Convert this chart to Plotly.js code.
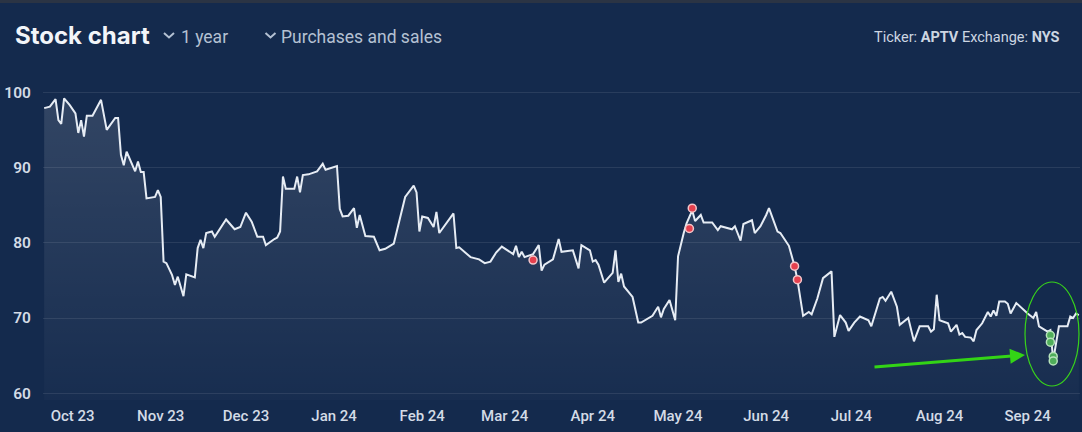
<!DOCTYPE html>
<html>
<head>
<meta charset="utf-8">
<script src="https://cdn.plot.ly/plotly-3.0.1.min.js"></script>
<style>html,body{margin:0;padding:0;background:#142a4d;}#chart{width:1082px;height:432px;}</style>
</head>
<body>
<div id="chart"></div>
<script>
// ---- data ----
const dates = [
'2023-09-21','2023-09-23','2023-09-25','2023-09-26','2023-09-27','2023-09-28','2023-09-30',
'2023-10-02','2023-10-03','2023-10-04','2023-10-05','2023-10-06','2023-10-08','2023-10-11','2023-10-13',
'2023-10-16','2023-10-17','2023-10-18','2023-10-19','2023-10-20','2023-10-23','2023-10-24','2023-10-25',
'2023-10-26','2023-10-27','2023-10-30','2023-10-31',
'2023-11-01','2023-11-02','2023-11-03','2023-11-05','2023-11-06','2023-11-07','2023-11-09','2023-11-10',
'2023-11-13','2023-11-14','2023-11-15','2023-11-16','2023-11-17','2023-11-19','2023-11-20','2023-11-24',
'2023-11-27','2023-11-29',
'2023-12-01','2023-12-03','2023-12-05','2023-12-07','2023-12-08','2023-12-11','2023-12-12','2023-12-13',
'2023-12-14','2023-12-15','2023-12-18','2023-12-19','2023-12-20','2023-12-21','2023-12-23','2023-12-26',
'2023-12-28','2023-12-29',
'2024-01-02','2024-01-03','2024-01-04','2024-01-06','2024-01-08','2024-01-09','2024-01-10','2024-01-12',
'2024-01-15','2024-01-17','2024-01-19','2024-01-22','2024-01-26','2024-01-29','2024-01-30','2024-01-31',
'2024-02-01','2024-02-03','2024-02-05','2024-02-06','2024-02-07','2024-02-12','2024-02-13','2024-02-14',
'2024-02-18','2024-02-21','2024-02-23','2024-02-25','2024-02-27','2024-02-29',
'2024-03-04','2024-03-05','2024-03-06','2024-03-07','2024-03-08','2024-03-11','2024-03-13','2024-03-14',
'2024-03-15','2024-03-18','2024-03-19','2024-03-20','2024-03-21','2024-03-25','2024-03-27','2024-03-28',
'2024-03-31',
'2024-04-01','2024-04-02','2024-04-03','2024-04-05','2024-04-07','2024-04-08','2024-04-09','2024-04-10',
'2024-04-11','2024-04-12','2024-04-15','2024-04-17','2024-04-18','2024-04-22','2024-04-24','2024-04-25',
'2024-04-26','2024-04-28','2024-04-30',
'2024-05-01','2024-05-03','2024-05-04','2024-05-06','2024-05-07','2024-05-09','2024-05-10','2024-05-13',
'2024-05-15','2024-05-16','2024-05-19','2024-05-20','2024-05-21','2024-05-23','2024-05-24','2024-05-27',
'2024-05-28','2024-05-30',
'2024-06-01','2024-06-02','2024-06-05','2024-06-06','2024-06-09','2024-06-11','2024-06-12','2024-06-14',
'2024-06-16','2024-06-17','2024-06-19','2024-06-21','2024-06-24','2024-06-25','2024-06-27','2024-06-29',
'2024-06-30',
'2024-07-02','2024-07-04','2024-07-07','2024-07-08','2024-07-11','2024-07-12','2024-07-13','2024-07-15',
'2024-07-17','2024-07-18','2024-07-21','2024-07-23','2024-07-25','2024-07-28','2024-07-29','2024-07-30',
'2024-07-31',
'2024-08-01','2024-08-04','2024-08-05','2024-08-07','2024-08-08','2024-08-09','2024-08-10','2024-08-12',
'2024-08-13','2024-08-14','2024-08-16','2024-08-18','2024-08-19','2024-08-20','2024-08-21','2024-08-22',
'2024-08-24','2024-08-25','2024-08-26','2024-08-28',
'2024-09-01','2024-09-03','2024-09-04','2024-09-05','2024-09-08','2024-09-09','2024-09-10','2024-09-12',
'2024-09-15','2024-09-16','2024-09-17','2024-09-18','2024-09-19'
];
const prices = [
97.9,98.1,99.1,96.3,95.8,99.2,98.3,
97.2,94.6,96.3,94.1,96.9,96.9,99.0,95.0,
96.6,96.6,91.7,90.3,92.1,89.5,90.8,89.4,
89.4,85.9,86.1,87.0,
86.1,77.5,77.3,75.7,74.4,75.5,72.9,75.8,
75.4,79.3,80.4,79.3,81.3,81.5,80.8,83.1,
81.8,82.1,
84.0,82.8,80.8,80.8,79.7,80.5,80.7,81.5,
88.8,87.2,87.2,88.8,86.7,89.0,89.1,89.5,
90.5,89.7,
90.2,84.5,83.5,83.6,84.6,82.0,83.7,80.9,
80.8,79.0,79.2,79.9,86.1,87.6,86.7,81.5,
83.5,83.3,82.1,84.1,81.3,83.9,79.3,79.4,
78.1,77.8,77.3,77.5,78.7,79.5,
78.5,79.6,78.1,78.8,78.1,78.5,79.7,76.3,
77.1,77.8,79.0,80.5,78.8,79.0,76.6,79.7,
79.0,
77.5,77.7,77.1,74.7,75.6,76.0,79.0,74.8,
75.9,74.2,72.8,69.4,69.4,70.3,71.5,70.1,
71.2,72.4,69.7,
78.2,81.3,82.6,84.3,82.9,83.7,82.7,82.7,
81.7,82.2,81.9,81.8,82.2,80.3,82.5,83.0,
81.3,82.2,
83.7,84.6,81.5,81.3,79.6,76.9,75.1,70.3,
70.8,70.5,72.6,75.3,76.2,67.5,70.4,69.4,
68.3,
69.4,70.2,69.7,68.9,72.6,72.8,72.3,73.5,
71.5,69.1,70.0,66.9,68.9,68.9,68.2,68.5,
73.1,
69.7,69.3,68.2,69.1,67.8,68.0,67.5,67.4,
66.9,68.4,69.3,70.8,70.2,71.0,70.3,72.2,
72.2,71.9,70.6,72.0,
70.6,70.0,70.8,68.9,68.2,68.4,64.4,68.9,
68.9,70.2,70.0,70.6,70.4
];
// insider sales (red) and purchases (green)
const saleDates = ['2024-03-11','2024-05-05','2024-05-06','2024-06-11','2024-06-12'];
const salePrices = [77.7,81.9,84.6,76.9,75.1];
const buyDates = ['2024-09-09','2024-09-09','2024-09-10','2024-09-10'];
const buyPrices = [67.7,66.8,64.9,64.3];
const yTicks = [60,70,80,90,100];

// ---- layout helpers (pixel -> paper) ----
const L=43, R=1080, T=75, B=400;
const px = x => (x-L)/(R-L);
const py = y => (B-y)/(B-T);

const traces = [
  {x:dates, y:prices, type:'scatter', mode:'lines',
   line:{color:'#e6ecf4', width:2},
   fill:'tozeroy',
   fillgradient:{type:'vertical', start:59, stop:100,
     colorscale:[[0,'rgba(255,255,255,0.015)'],[1,'rgba(255,255,255,0.13)']]},
   hoverinfo:'skip'},
  {x:saleDates, y:salePrices, type:'scatter', mode:'markers',
   marker:{color:'#e5404e', size:8, line:{color:'#f3c6ca', width:1.5}}},
  {x:buyDates, y:buyPrices, type:'scatter', mode:'markers',
   marker:{color:'#4fae5a', size:8, line:{color:'#b7e3bb', width:1.5}}}
];

const layout = {
  width:1082, height:432,
  margin:{l:L, r:1082-R, t:T, b:432-B},
  paper_bgcolor:'#142a4d', plot_bgcolor:'#142a4d',
  showlegend:false,
  font:{family:'Roboto, "Noto Sans", sans-serif', color:'#d3dbe6'},
  xaxis:{type:'date', range:['2023-09-20 14:00','2024-09-19 10:00'],
    tick0:'2023-10-01', dtick:'M1', tickformat:'%b %y',
    showgrid:false, zeroline:false, showline:false,
    ticks:'outside', ticklen:2, tickcolor:'rgba(0,0,0,0)',
    tickfont:{size:15, color:'#d3dbe6', weight:500}, fixedrange:true},
  yaxis:{range:[59.11,102.3], tickvals:yTicks, ticktext:yTicks.map(String),
    showgrid:true, gridcolor:'rgba(255,255,255,0.09)', gridwidth:1,
    zeroline:false, showline:false,
    ticks:'outside', ticklen:8, tickcolor:'rgba(0,0,0,0)',
    tickfont:{size:15.5, color:'#d3dbe6', weight:600}, fixedrange:true},
  shapes:[
    {type:'rect', xref:'paper', yref:'paper', x0:px(0), x1:px(1082), y0:py(3), y1:py(0),
     fillcolor:'#2b3444', line:{width:0}},
    {type:'path', xref:'paper', yref:'paper',
     path:`M${px(164)},${py(33)} L${px(169)},${py(37.5)} L${px(174)},${py(33)}`,
     line:{color:'#b4c1d3', width:2}},
    {type:'path', xref:'paper', yref:'paper',
     path:`M${px(265.5)},${py(33)} L${px(270.5)},${py(37.5)} L${px(275.5)},${py(33)}`,
     line:{color:'#b4c1d3', width:2}},
    {type:'circle', xref:'paper', yref:'paper', x0:px(1025), x1:px(1079), y0:py(386), y1:py(282),
     line:{color:'#38d31b', width:1.2}}
  ],
  annotations:[
    {xref:'paper', yref:'paper', x:px(13), y:py(35), xanchor:'left', yanchor:'middle',
     text:'<b>Stock chart</b>', showarrow:false,
     font:{family:'Inter, Roboto, sans-serif', size:24, color:'#f2f5f9'}},
    {xref:'paper', yref:'paper', x:px(179), y:py(37), xanchor:'left', yanchor:'middle',
     text:'1 year', showarrow:false,
     font:{family:'Roboto, sans-serif', size:17.5, color:'#b4c1d3'}},
    {xref:'paper', yref:'paper', x:px(279), y:py(37), xanchor:'left', yanchor:'middle',
     text:'Purchases and sales', showarrow:false,
     font:{family:'Roboto, sans-serif', size:17.5, color:'#b4c1d3'}},
    {xref:'paper', yref:'paper', x:px(1062), y:py(37.5), xanchor:'right', yanchor:'middle',
     text:'Ticker: <b>APTV</b> Exchange: <b>NYS</b>', showarrow:false,
     font:{family:'Roboto, sans-serif', size:14.5, color:'#cdd6e2'}},
    {xref:'paper', yref:'paper', x:px(1025), y:py(355), ax:-152, ay:12,
     text:'', showarrow:true, arrowhead:2, arrowsize:1, arrowwidth:3,
     arrowcolor:'#33d416', standoff:0}
  ]
};

Plotly.newPlot('chart', traces, layout, {displayModeBar:false, staticPlot:true});
</script>
</body>
</html>
